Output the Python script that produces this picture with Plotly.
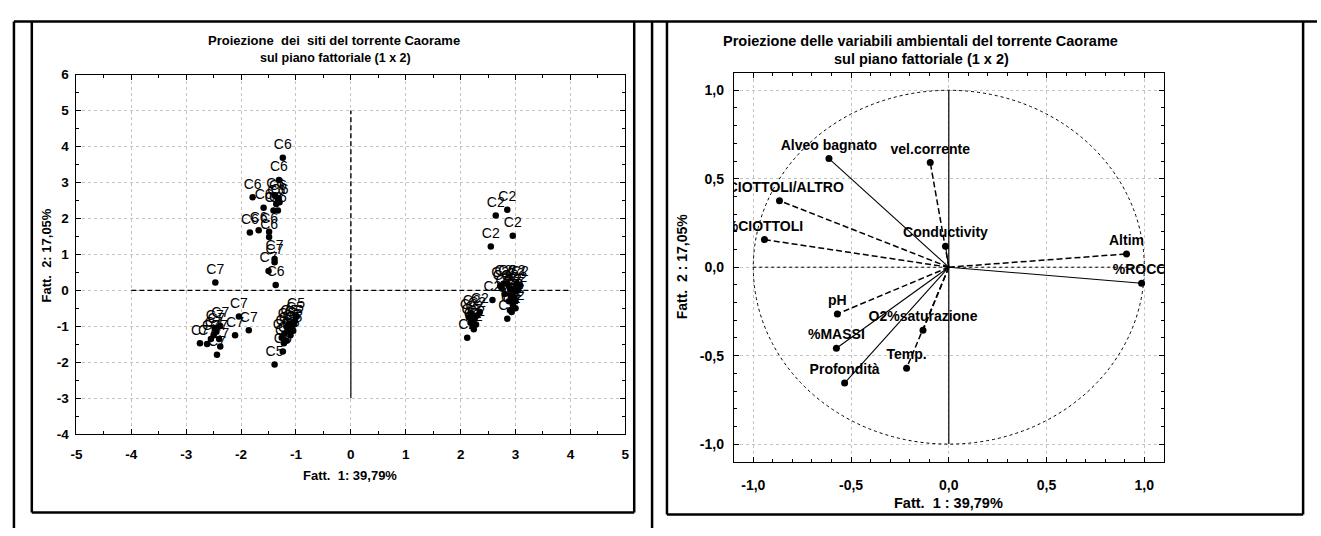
import plotly.graph_objects as go

W, H = 1321, 536
FONT = "Liberation Sans"

# ---------------- Sites projected on factors 1 x 2 ----------------
c2_f1 = [2.85, 2.64, 2.95, 2.55, 2.58, 2.72, 2.78, 2.85, 2.90, 2.95, 3.00, 3.02,
         2.92, 2.88, 2.95, 3.00, 2.90, 2.85, 2.98, 3.05, 2.80, 2.93, 3.00, 2.75,
         3.08, 2.12, 2.20, 2.25, 2.30, 2.18, 2.22, 2.28, 2.15, 2.35, 2.24]
c2_f2 = [2.24, 2.08, 1.52, 1.22, -0.27, 0.12, 0.18, 0.20, 0.05, -0.05, 0.10, 0.20,
         -0.15, -0.30, -0.40, -0.30, -0.55, -0.79, -0.20, 0.00, -0.10, -0.60, -0.50, 0.05,
         0.15, -1.32, -0.65, -0.80, -0.70, -0.90, -1.00, -0.95, -0.75, -0.60, -1.08]

c5_f1 = [-1.39, -1.24, -1.22, -1.17, -1.26, -1.21, -1.15, -1.10, -1.08, -1.04,
         -1.02, -1.00, -1.12, -1.17, -1.05]
c5_f2 = [-2.06, -1.70, -1.47, -1.40, -1.32, -1.20, -1.12, -1.25, -1.05, -0.95,
         -0.85, -0.72, -0.92, -1.02, -1.12]

c6_f1 = [-1.24, -1.31, -1.79, -1.38, -1.33, -1.30, -1.36, -1.59, -1.41, -1.33,
         -1.84, -1.68, -1.49, -1.49, -1.37]
c6_f2 = [3.69, 3.07, 2.59, 2.62, 2.55, 2.45, 2.40, 2.30, 2.22, 2.22,
         1.61, 1.67, 1.63, 1.48, 0.15]

c7_f1 = [-1.39, -1.39, -1.50, -2.47, -2.04, -1.86, -2.11, -2.38, -2.75, -2.62,
         -2.44, -2.38, -2.50, -2.45, -2.55, -2.40, -2.48]
c7_f2 = [0.87, 0.78, 0.54, 0.22, -0.73, -1.11, -1.25, -0.99, -1.47, -1.49,
         -1.79, -1.56, -1.25, -1.15, -1.35, -1.35, -1.05]

site_groups = [("C2", c2_f1, c2_f2), ("C5", c5_f1, c5_f2),
               ("C6", c6_f1, c6_f2), ("C7", c7_f1, c7_f2)]

# ---------------- Environmental variables (loadings) ----------------
var_names = ["Alveo bagnato", "vel.corrente", "%CIOTTOLI/ALTRO", "%CIOTTOLI",
             "Conductivity", "Altim", "%ROCCI", "pH", "O2%saturazione",
             "%MASSI", "Temp.", "Profondità"]
var_f1 = [-0.613, -0.095, -0.866, -0.943, -0.017, 0.909, 0.986,
          -0.570, -0.132, -0.575, -0.216, -0.533]
var_f2 = [0.614, 0.592, 0.376, 0.156, 0.119, 0.075, -0.091,
          -0.264, -0.357, -0.458, -0.571, -0.655]
var_solid = [True, False, False, False, True, False, True,
             False, False, True, False, True]

# axis ticks
left_x_ticks = [-5, -4, -3, -2, -1, 0, 1, 2, 3, 4, 5]
left_y_ticks = [-4, -3, -2, -1, 0, 1, 2, 3, 4, 5, 6]
right_ticks = [-1.0, -0.5, 0.0, 0.5, 1.0]
right_tick_text = ["-1,0", "-0,5", "0,0", "0,5", "1,0"]


# ---------------- helpers: pixel -> paper ----------------
def fx(p):
    return p / W


def fy(p):
    return 1 - p / H


fig = go.Figure()

# factorial axes of the site plot
fig.add_trace(go.Scatter(x=[-4, 4], y=[0, 0], mode="lines", xaxis="x", yaxis="y",
                         line=dict(color="black", width=1.4, dash="5px,3px"),
                         hoverinfo="skip", showlegend=False))
fig.add_trace(go.Scatter(x=[0, 0], y=[0, 5], mode="lines", xaxis="x", yaxis="y",
                         line=dict(color="black", width=1.4, dash="5px,3px"),
                         hoverinfo="skip", showlegend=False))
fig.add_trace(go.Scatter(x=[0, 0], y=[-3, 0], mode="lines", xaxis="x", yaxis="y",
                         line=dict(color="black", width=1.2),
                         hoverinfo="skip", showlegend=False))

for name, fx1, fx2 in site_groups:
    fig.add_trace(go.Scatter(
        x=fx1, y=fx2, mode="markers+text", xaxis="x", yaxis="y",
        text=[name] * len(fx1), textposition="top center",
        textfont=dict(family=FONT, size=14, color="black"),
        marker=dict(color="black", size=6.5), name=name, showlegend=False))

# reference axes of the correlation circle
fig.add_trace(go.Scatter(x=[-1, 1], y=[0, 0], mode="lines", xaxis="x2", yaxis="y2",
                         line=dict(color="black", width=1, dash="dot"),
                         hoverinfo="skip", showlegend=False))
fig.add_trace(go.Scatter(x=[0, 0], y=[-1, 1], mode="lines", xaxis="x2", yaxis="y2",
                         line=dict(color="black", width=1.2),
                         hoverinfo="skip", showlegend=False))

# loading vectors
for solid in (True, False):
    xs, ys = [], []
    for a, b, s in zip(var_f1, var_f2, var_solid):
        if s == solid:
            xs += [0, a, None]
            ys += [0, b, None]
    fig.add_trace(go.Scatter(
        x=xs, y=ys, mode="lines", xaxis="x2", yaxis="y2",
        line=dict(color="black", width=1.1 if solid else 1.5,
                  dash="solid" if solid else "6px,3px"),
        hoverinfo="skip", showlegend=False))

fig.add_trace(go.Scatter(
    x=var_f1, y=var_f2, mode="markers+text", xaxis="x2", yaxis="y2",
    text=var_names, textposition="top center",
    textfont=dict(family=FONT, size=14, color="black", weight="bold"),
    marker=dict(color="black", size=7), showlegend=False))

# unit circle
fig.add_shape(type="circle", xref="x2", yref="y2", x0=-1, y0=-1, x1=1, y1=1,
              line=dict(color="black", width=1, dash="dot"))

common = dict(showline=True, linecolor="black", linewidth=1, mirror="ticks",
              ticks="inside", ticklen=5, tickcolor="black", tickwidth=1,
              showgrid=True, gridcolor="#c4c4c4", griddash="dot", gridwidth=1,
              zeroline=False, fixedrange=True)
tick_left = dict(family=FONT, size=13.5, color="black", weight="bold")
tick_right = dict(family=FONT, size=14, color="black", weight="bold")

fig.update_layout(
    width=W, height=H, margin=dict(l=0, r=0, t=0, b=0),
    paper_bgcolor="white", plot_bgcolor="white", showlegend=False,
    xaxis=dict(common, domain=[fx(71), fx(624)], range=[-5, 5], anchor="y",
               tickmode="array", tickvals=left_x_ticks, tickfont=tick_left,
               ticktext=[str(v) for v in left_x_ticks], ticklabelstandoff=8,
               minor=dict(ticks="inside", ticklen=3, tickcolor="black",
                          tickmode="linear", tick0=0, dtick=0.5, showgrid=False)),
    yaxis=dict(common, domain=[fy(439.5), fy(69.5)], range=[-4, 6], anchor="x",
               tickmode="array", tickvals=left_y_ticks, tickfont=tick_left,
               ticktext=[str(v) for v in left_y_ticks], ticklabelstandoff=4,
               minor=dict(ticks="inside", ticklen=3, tickcolor="black",
                          tickmode="linear", tick0=0, dtick=0.5, showgrid=False)),
    xaxis2=dict(common, domain=[fx(733.3), fx(1166.7)], range=[-1.1, 1.1], anchor="y2",
                tickmode="array", tickvals=right_ticks, ticktext=right_tick_text,
                tickfont=tick_right, ticklabelstandoff=10,
                minor=dict(ticks="inside", ticklen=3, tickcolor="black",
                           tickmode="linear", tick0=0, dtick=0.1, showgrid=False)),
    yaxis2=dict(common, domain=[fy(467.9), fy(67.5)], range=[-1.1, 1.1], anchor="x2",
                tickmode="array", tickvals=right_ticks, ticktext=right_tick_text,
                tickfont=tick_right, ticklabelstandoff=6,
                minor=dict(ticks="inside", ticklen=3, tickcolor="black",
                           tickmode="linear", tick0=0, dtick=0.1, showgrid=False)),
)


def bold(size):
    return dict(family=FONT, size=size, color="black", weight="bold")


# titles and axis titles
texts = [
    ("Proiezione  dei  siti del torrente Caorame", 330, 34, 0, 13),
    ("sul piano fattoriale (1 x 2)", 332, 52, 0, 12.5),
    ("Fatt.  1: 39,79%", 347, 482, 0, 13),
    ("Fatt.  2: 17,05%", 41, 256, -90, 13),
    ("Proiezione delle variabili ambientali del torrente Caorame", 921, 35, 0, 14.5),
    ("sul piano fattoriale (1 x 2)", 922, 53, 0, 14.5),
    ("Fatt.  1 : 39,79%", 950, 510, 0, 14.5),
    ("Fatt.  2 : 17,05%", 681, 267, -90, 14),
]
for t, x, y, ang, sz in texts:
    fig.add_annotation(text=t, x=fx(x), y=fy(y), xref="paper", yref="paper",
                       showarrow=False, xanchor="center", yanchor="middle",
                       textangle=ang, font=bold(sz))

# table frame around the two panels
frame = [
    (8, 15, 1321, 15),      # top rule
    (8, 15, 8, 536),        # outer left
    (26, 15, 26, 520),      # left cell box
    (633, 15, 633, 520),
    (26, 520, 633, 520),
    (651, 15, 651, 536),    # cell separator
    (666, 15, 666, 522),    # right cell box
    (1307, 15, 1307, 522),
    (666, 522, 1307, 522),
]
for x0, y0, x1, y1 in frame:
    fig.add_shape(type="line", xref="paper", yref="paper",
                  x0=fx(x0), y0=fy(y0), x1=fx(x1), y1=fy(y1),
                  line=dict(color="black", width=2.5))

fig.write_html("out.html")
